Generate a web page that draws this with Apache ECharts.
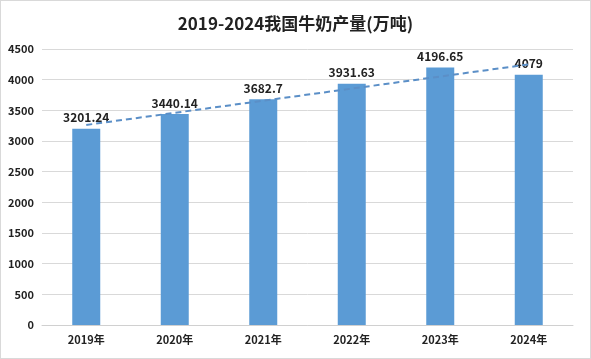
<!DOCTYPE html>
<html><head><meta charset="utf-8">
<script src="https://cdn.jsdelivr.net/npm/echarts@6/dist/echarts.min.js"></script>
<style>html,body{margin:0;padding:0;background:#fff}#c{width:591px;height:359px;box-sizing:border-box;border:1px solid #d9d9d9}</style>
</head><body><div id="c"></div>
<script>
const categories = ['2019年','2020年','2021年','2022年','2023年','2024年'];
const production = [3201.24, 3440.14, 3682.7, 3931.63, 4196.65, 4079];
const trendValues = [3262, null, null, null, null, 4249];
const yTicks = [0, 500, 1000, 1500, 2000, 2500, 3000, 3500, 4000, 4500];

const chart = echarts.init(document.getElementById('c'));
const font = '"Noto Sans CJK SC", "Noto Sans", sans-serif';
chart.setOption({
  backgroundColor: '#fff',
  animation: false,
  title: {
    text: '2019-2024我国牛奶产量(万吨)',
    left: 'center', top: 9,
    textStyle: { fontFamily: font, fontSize: 17, fontWeight: 'bold', color: '#222' }
  },
  grid: { left: 41, right: 17, top: 48, bottom: 33, containLabel: false },
  xAxis: {
    type: 'category', data: categories,
    axisLine: { lineStyle: { color: '#d0d0d0' } },
    axisTick: { show: false },
    axisLabel: { fontFamily: font, fontSize: 11, fontWeight: 'bold', color: '#222', margin: 9 }
  },
  yAxis: {
    type: 'value', min: yTicks[0], max: yTicks[yTicks.length - 1], interval: 500,
    axisLine: { show: false }, axisTick: { show: false },
    splitLine: { lineStyle: { color: '#d9d9d9' } },
    axisLabel: { fontFamily: font, fontSize: 11, fontWeight: 'bold', color: '#222', margin: 8,
      formatter: v => String(v) }
  },
  series: [
    {
      type: 'bar', data: production, barWidth: 28,
      itemStyle: { color: '#5b9bd5' },
      label: { show: true, position: 'top', distance: 5, fontFamily: font, fontSize: 12, fontWeight: 'bold', color: '#222' }
    },
    {
      type: 'line', data: trendValues, connectNulls: true, symbol: 'none',
      lineStyle: { color: '#5b8fc7', width: 2, type: [6, 4] }, z: 5
    }
  ]
});
</script></body></html>
